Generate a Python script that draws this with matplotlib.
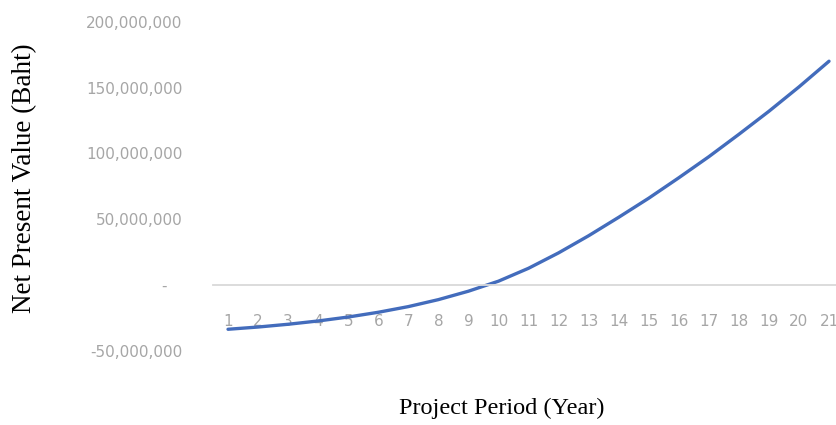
import matplotlib.pyplot as plt
from matplotlib.ticker import FuncFormatter

# NPV per project year (Baht)
years = list(range(1, 22))
npv = [-33.5e6, -31.8e6, -29.7e6, -27.2e6, -24.2e6, -20.6e6, -16.3e6, -11.0e6, -4.6e6,
       3.0e6, 12.8e6, 24.5e6, 37.5e6, 51.5e6, 66.0e6, 81.5e6, 97.5e6, 114.5e6,
       132.0e6, 150.5e6, 170.0e6]
y_ticks = [-50e6, 0, 50e6, 100e6, 150e6, 200e6]

fig = plt.figure(figsize=(8.37, 4.25), dpi=100)
W, H = 837, 425
left, right = 213, 837
top, bottom = 21.7, 351
ax = fig.add_axes([left / W, (H - bottom) / H, (right - left) / W, (bottom - top) / H])

ax.plot(years, npv, color='#436CBC', linewidth=2.4, solid_capstyle='round')

# category spacing ~30 px, first category centred 15 px from the left edge
step = 30.05
ax.set_xlim(0.5, 0.5 + (right - left) / step)
ax.set_ylim(-50e6, 200e6)

ax.set_xticks(years)
ax.set_yticks(y_ticks)


def fmt(v, pos):
    if v == 0:
        return '-   '
    return f'{v:,.0f}'


ax.yaxis.set_major_formatter(FuncFormatter(fmt))

for s in ['top', 'right', 'left']:
    ax.spines[s].set_visible(False)
ax.spines['bottom'].set_position(('data', 0))
ax.spines['bottom'].set_color('#d9d9d9')
ax.spines['bottom'].set_linewidth(1.3)

ax.tick_params(axis='x', length=0, pad=21, labelsize=11, labelcolor='#a6a6a6')
ax.tick_params(axis='y', length=0, pad=22, labelsize=11, labelcolor='#a6a6a6')

fig.text(502 / W, 1 - 408 / H, 'Project Period (Year)', family='Liberation Serif',
         fontsize=17.5, ha='center', va='center')
fig.text(25 / W, 1 - 178 / H, 'Net Present Value (Baht)', family='Liberation Serif',
         fontsize=19.5, ha='center', va='center', rotation=90)

fig.savefig('out.png', dpi=100)
